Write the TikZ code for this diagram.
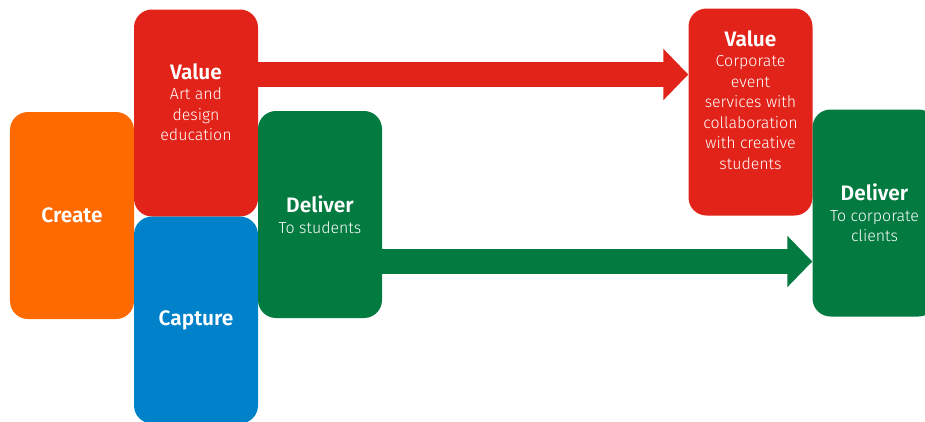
\documentclass[tikz,border=0pt]{standalone}
\usepackage{fontspec}
\setmainfont{Fira Sans}
\newfontfamily\lightfont{Fira Sans Light}
\usetikzlibrary{arrows.meta,positioning}
\definecolor{BmOrange}{HTML}{FF6A00}
\definecolor{BmRed}{HTML}{E2231A}
\definecolor{BmBlue}{HTML}{0082CA}
\definecolor{BmGreen}{HTML}{037A40}
\newcommand{\ttl}[1]{{\bfseries\fontsize{21}{25}\selectfont #1}}

\begin{document}
\begin{tikzpicture}[x=1bp, y=-1bp, font=\lightfont\fontsize{16}{20.5}\selectfont,
  block/.style={rounded corners=18bp, minimum width=124bp, minimum height=207bp, inner sep=0pt},
  txt/.style={text=white, align=center, inner sep=0pt},
  flow/.style={line width=25bp, -{Triangle[length=25bp,width=50bp]}}]
\useasboundingbox (0,0) rectangle (925,421);

\node[block, fill=BmOrange] (create) at (72,215.5) {};
\node[block, fill=BmRed] (valueL) at (196,113) {};
\node[block, fill=BmBlue] (capture) at (196,320) {};
\node[block, fill=BmGreen] (deliverL) at (320,214.5) {};
\node[block, fill=BmRed] (valueR) at (750.5,112) {};
\node[block, fill=BmGreen] (deliverR) at (874.5,213) {};

\node[txt] (create-t) at (create) {\ttl{Create}};
\node[txt] (valueL-t) at ([yshift=11bp]valueL.center) {\ttl{Value}\\Art and\\design\\education};
\node[txt] (capture-t) at (capture) {\ttl{Capture}};
\node[txt] (deliverL-t) at (deliverL) {\ttl{Deliver}\\To students};
\node[txt] (valueR-t) at ([yshift=12bp]valueR.center) {\ttl{Value}\\Corporate\\event\\services with\\collaboration\\with creative\\students};
\node[txt] (deliverR-t) at (deliverR) {\ttl{Deliver}\\To corporate\\clients};

\draw[flow, BmRed] ([yshift=38.5bp]valueL.east) -- ([yshift=38.5bp]valueL.east -| valueR.west);
\draw[flow, BmGreen] ([yshift=-47bp]deliverL.east) -- ([yshift=-47bp]deliverL.east -| deliverR.west);

\end{tikzpicture}
\end{document}
